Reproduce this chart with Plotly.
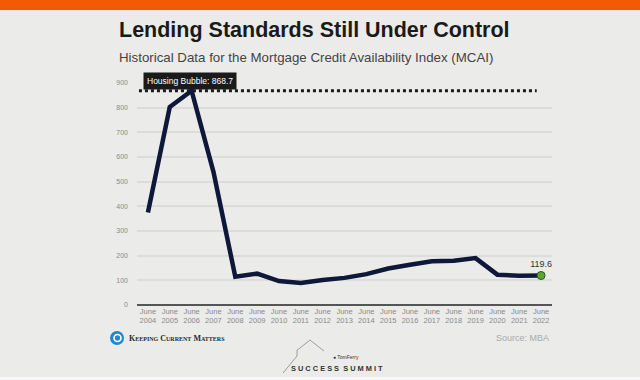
import plotly.graph_objects as go

years = list(range(2004, 2023))
tick_labels = [f"June<br>{y}" for y in years]
mcai = [375, 803, 868.7, 540, 115, 127, 97, 89, 101, 110, 125, 148, 163, 177, 179, 190, 123, 119, 119.6]
bubble_value = 868.7
y_ticks = [0, 100, 200, 300, 400, 500, 600, 700, 800, 900]

x = list(range(len(years)))

L, R, T, B = 137, 88, 83, 75
PW, PH = 640 - L - R, 380 - T - B


def px(xp):
    return (xp - L) / PW


def py(yp):
    return (380 - B - yp) / PH


fig = go.Figure()

fig.add_trace(go.Scatter(
    x=[-0.96, 17.8], y=[bubble_value, bubble_value], mode="lines",
    line=dict(color="#1a1a1a", width=3, dash="dot"),
    hoverinfo="skip", showlegend=False))

fig.add_trace(go.Scatter(
    x=x, y=mcai, mode="lines",
    line=dict(color="#0e1838", width=4.5),
    showlegend=False))

fig.add_trace(go.Scatter(
    x=[x[-1]], y=[mcai[-1]], mode="markers+text",
    marker=dict(color="#5aa832", size=8, line=dict(color="#2a5a20", width=1)),
    text=[f"{mcai[-1]}"], textposition="top center",
    textfont=dict(size=9, color="#333333", family="Liberation Sans"),
    showlegend=False, cliponaxis=False))

fig.update_layout(
    width=640, height=380,
    paper_bgcolor="#ebebea", plot_bgcolor="#ebebea",
    margin=dict(l=L, r=R, t=T, b=B),
    font=dict(family="Liberation Sans", color="#777777"),
    xaxis=dict(
        range=[-0.5, 18.5], tickmode="array", tickvals=x, ticktext=tick_labels,
        tickfont=dict(size=7.5, color="#8a8a8a"), showgrid=False, zeroline=False,
        ticks="", fixedrange=True),
    yaxis=dict(
        range=[0, 900], tickmode="array", tickvals=y_ticks,
        tickfont=dict(size=7, color="#8a8a8a"),
        gridcolor="#dcdcdc", gridwidth=1.5, zeroline=True, zerolinecolor="#555555",
        zerolinewidth=2, ticks="", ticklabelstandoff=8),
    shapes=[
        dict(type="rect", xref="paper", yref="paper", x0=px(-5), x1=px(650), y0=py(10), y1=py(-5),
             fillcolor="#f25a05", line=dict(width=0), layer="above"),
        dict(type="rect", xref="paper", yref="paper", x0=px(-5), x1=px(650), y0=py(385), y1=py(377),
             fillcolor="#f7f7f7", line=dict(width=0), layer="above"),
        dict(type="path", xref="paper", yref="paper",
             path=(f"M {px(283)} {py(373)} L {px(297)} {py(356)} L {px(297)} {py(350)} "
                   f"L {px(300)} {py(348)} L {px(310)} {py(340)} L {px(324)} {py(351)}"),
             line=dict(color="#888888", width=0.8), layer="above"),
        dict(type="circle", xref="paper", yref="paper", xsizemode="pixel", ysizemode="pixel",
             xanchor=px(117), yanchor=py(338), x0=-7, x1=7, y0=-7, y1=7,
             fillcolor="#1e88d0", line=dict(width=0), layer="above"),
        dict(type="circle", xref="paper", yref="paper", xsizemode="pixel", ysizemode="pixel",
             xanchor=px(117.5), yanchor=py(338), x0=-3.5, x1=3.5, y0=-3.5, y1=3.5,
             fillcolor="rgba(0,0,0,0)", line=dict(width=1.6, color="#ffffff"), layer="above"),
    ],
    annotations=[
        dict(text="<b>Lending Standards Still Under Control</b>", xref="paper", yref="paper",
             x=px(117), y=py(30), xanchor="left", yanchor="middle",
             showarrow=False, font=dict(size=21.5, color="#1a1a1a", family="Liberation Sans")),
        dict(text="Historical Data for the Mortgage Credit Availability Index (MCAI)",
             xref="paper", yref="paper", x=px(117), y=py(57),
             xanchor="left", yanchor="middle", showarrow=False,
             font=dict(size=13.3, color="#444444", family="Liberation Sans")),
        dict(text=f"Housing Bubble: {bubble_value}", xref="x", yref="y", x=1.92, y=bubble_value,
             yshift=10, showarrow=False, bgcolor="#1a1a1a", borderpad=3,
             font=dict(size=8.5, color="#ffffff", family="Liberation Sans")),
        dict(text="<b>K</b><b style='font-size:6px'>EEPING</b> <b>C</b><b style='font-size:6px'>URRENT</b> <b>M</b><b style='font-size:6px'>ATTERS</b>",
             xref="paper", yref="paper", x=px(127), y=py(338),
             xanchor="left", yanchor="middle", showarrow=False,
             font=dict(size=8, color="#2a2a2a", family="Liberation Serif")),
        dict(text="Source: MBA", xref="paper", yref="paper", x=px(551),
             y=py(338), xanchor="right", yanchor="middle", showarrow=False,
             font=dict(size=9, color="#aaaaaa")),
        dict(text="<b>S U C C E S S  S U M M I T</b>", xref="paper", yref="paper",
             x=px(337), y=py(368), xanchor="center", yanchor="middle",
             showarrow=False, font=dict(size=7.4, color="#333333")),
        dict(text="● TomFerry", xref="paper", yref="paper", x=px(346),
             y=py(357), xanchor="center", yanchor="middle",
             showarrow=False, font=dict(size=5, color="#333333")),
    ],
)

fig.write_html("out.html", config={"displayModeBar": False},
               post_script="document.body.style.margin='0';document.body.style.background='#ebebea';")
